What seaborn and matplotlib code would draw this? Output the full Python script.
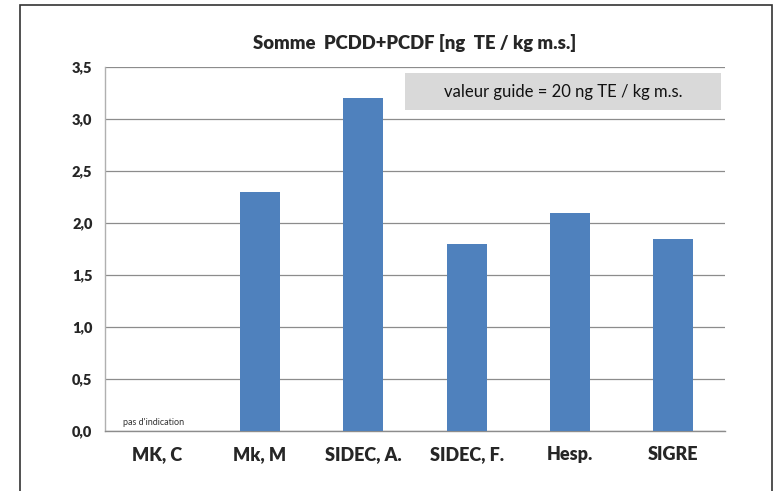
import matplotlib
matplotlib.use("Agg")
import matplotlib.pyplot as plt
import seaborn as sns
import pandas as pd
import numpy as np
from matplotlib.patches import Rectangle

# values
categories = ["MK, C", "Mk, M", "SIDEC, A.", "SIDEC, F.", "Hesp.", "SIGRE"]
values = [np.nan, 2.3, 3.2, 1.8, 2.1, 1.85]
y_ticks = [0.0, 0.5, 1.0, 1.5, 2.0, 2.5, 3.0, 3.5]

df = pd.DataFrame({"site": categories, "pcdd": values})

sns.set_style("white")
plt.rcParams["font.family"] = ["Lato", "DejaVu Sans"]

fig = plt.figure(figsize=(7.8, 4.91), dpi=100)
ax = fig.add_axes([105 / 780, 60 / 491, 620 / 780, 364 / 491])

sns.barplot(data=df, x="site", y="pcdd", color="#4F81BD", saturation=1,
            width=0.39, linewidth=0, ax=ax, zorder=3)

ax.set_xlim(-0.5, 5.5)
ax.set_ylim(0, 3.5)
ax.set_yticks(y_ticks)
ax.set_yticklabels([f"{t:.1f}".replace(".", ",") for t in y_ticks],
                   fontsize=10.5, fontweight="heavy")
ax.set_xticks(range(len(categories)))
ax.set_xticklabels(categories, fontsize=13, fontweight="heavy")
ax.set_xticks(np.arange(-0.5, 6, 1), minor=True)
ax.tick_params(axis="x", which="major", length=0, pad=11)
ax.tick_params(axis="x", which="minor", length=5, color="#888888", width=1)
ax.tick_params(axis="y", length=5, color="#aaaaaa", width=1, pad=4)
ax.set_xlabel("")
ax.set_ylabel("")

ax.grid(axis="y", color="#8c8c8c", linewidth=0.9, zorder=0)
for s in ["top", "right"]:
    ax.spines[s].set_visible(False)
ax.spines["left"].set_color("#b0b0b0")
ax.spines["bottom"].set_color("#8c8c8c")
for s in ["left", "bottom"]:
    ax.spines[s].set_linewidth(1)

ax.set_title("Somme  PCDD+PCDF [ng  TE / kg m.s.]", fontsize=13.3,
             fontweight="heavy", pad=13)

ax.text(-0.33, 0.055, "pas d'indication", fontsize=6.5, color="#333333")

# guide value box
ax.add_patch(Rectangle((0.484, 0.882), 0.51, 0.101, transform=ax.transAxes,
                       facecolor="#d9d9d9", edgecolor="none", zorder=4))
ax.text(0.739, 0.932, "valeur guide = 20 ng TE / kg m.s.", transform=ax.transAxes,
        ha="center", va="center", fontsize=12, color="#111111", zorder=5)

# outer frame
fig.add_artist(Rectangle((20 / 780, -0.05), 752 / 780, 1.04, transform=fig.transFigure,
                         facecolor="none", edgecolor="#333333", linewidth=1.2))

plt.savefig("out.png", dpi=100)
